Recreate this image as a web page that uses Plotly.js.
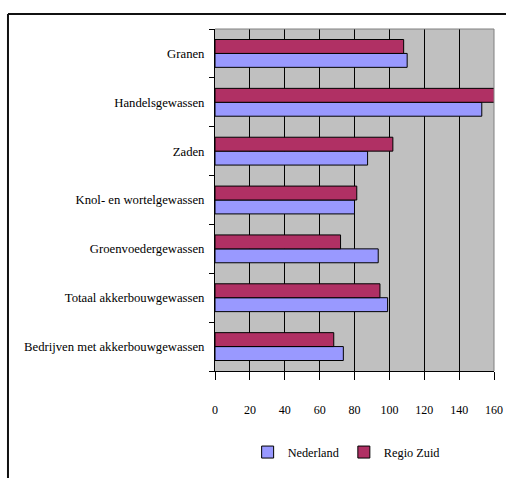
<!DOCTYPE html>
<html>
<head>
<meta charset="utf-8">
<script src="https://cdn.plot.ly/plotly-3.0.1.min.js"></script>
<style>html,body{margin:0;padding:0;background:#fff;}#chart{width:506px;height:478px;}</style>
</head>
<body>
<div id="chart"></div>
<script>
// Categories listed bottom-to-top
const categories = [
  "Bedrijven met akkerbouwgewassen",
  "Totaal akkerbouwgewassen",
  "Groenvoedergewassen",
  "Knol- en wortelgewassen",
  "Zaden",
  "Handelsgewassen",
  "Granen"
];
const nederland = [73.6, 99, 93.6, 80, 87.5, 153, 110.2];
const regioZuid = [68.1, 94.6, 72, 81.3, 102, 161, 108.2];
const xTicks = [0, 20, 40, 60, 80, 100, 120, 140, 160];

const serif = "Liberation Serif";

const traces = [
  {type: "bar", orientation: "h", name: "Nederland", y: categories, x: nederland,
   marker: {color: "#9999ff", line: {color: "#000", width: 1}}},
  {type: "bar", orientation: "h", name: "Regio Zuid", y: categories, x: regioZuid,
   marker: {color: "#b03064", line: {color: "#000", width: 1}}}
];

const layout = {
  width: 506, height: 478,
  margin: {l: 215, r: 12, t: 29, b: 105, pad: 0},
  paper_bgcolor: "#ffffff",
  plot_bgcolor: "#c0c0c0",
  font: {family: serif, color: "#000"},
  barmode: "group",
  bargap: 0.43,
  bargroupgap: 0,
  showlegend: true,
  legend: {orientation: "h", x: 0.47, xanchor: "center", y: -0.237, yanchor: "middle",
           font: {family: serif, size: 12.3, color: "#000"}, bgcolor: "rgba(0,0,0,0)"},
  xaxis: {range: [0, 160], tickvals: xTicks, ticktext: xTicks.map(String),
          showgrid: true, gridcolor: "#000", gridwidth: 1,
          zeroline: false, showline: true, linecolor: "#000", linewidth: 1,
          ticks: "outside", ticklen: 8, tickcolor: "#000", tickwidth: 1,
          ticklabelstandoff: 20,
          tickfont: {family: serif, size: 12, color: "#000"}, fixedrange: true},
  yaxis: {type: "category", categoryorder: "array", categoryarray: categories,
          showgrid: false, zeroline: false, showline: true, linecolor: "#000", linewidth: 1,
          ticks: "outside", ticklen: 5, tickcolor: "#000", tickwidth: 1, tickson: "boundaries",
          ticklabelstandoff: 7,
          tickfont: {family: serif, size: 12.7, color: "#000"}, fixedrange: true},
  shapes: [
    {type: "line", xref: "paper", yref: "paper", x0: 0, x1: 1, y0: 1, y1: 1,
     line: {color: "#808080", width: 1}},
    {type: "line", xref: "paper", yref: "paper", x0: 1, x1: 1, y0: 0, y1: 1,
     line: {color: "#808080", width: 1}},
    {type: "line", xref: "paper", yref: "paper", x0: -0.742, x1: -0.742, y0: -0.32, y1: 1.0436,
     line: {color: "#111", width: 2}},
    {type: "line", xref: "paper", yref: "paper", x0: -0.742, x1: 1.06, y0: 1.0436, y1: 1.0436,
     line: {color: "#111", width: 2}}
  ]
};

Plotly.newPlot("chart", traces, layout, {displayModeBar: false, staticPlot: true});
</script>
</body>
</html>
